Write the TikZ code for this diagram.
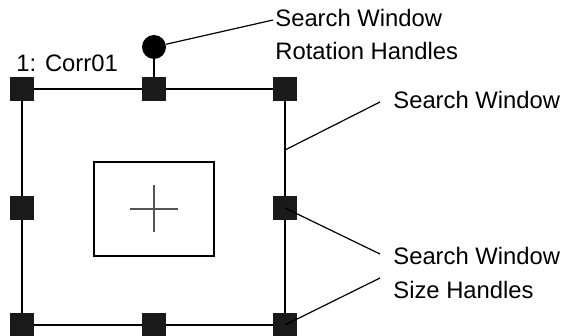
\documentclass[tikz,border=0pt]{standalone}
\usepackage{fontspec}
\setmainfont{Liberation Sans}
\definecolor{figK}{RGB}{26,26,26}
\definecolor{figG}{RGB}{85,85,85}

\begin{document}
\begin{tikzpicture}[x=0.5pt,y=-0.5pt,
  handle/.style={fill=figK,minimum size=12pt,inner sep=0pt},
  lbl/.style={font=\fontsize{11.9}{16.6}\selectfont,inner sep=0pt,align=left,anchor=base west}]
\useasboundingbox (0,0) rectangle (561,336);
% search window and target box
\draw[line width=0.6pt] (22,89) rectangle (285,325);
\draw[line width=0.6pt] (94,162) rectangle (214,256);
\draw[figG,line width=0.8pt] (130,209)--(178,209) (154,185)--(154,232);
% rotation handle
\node[circle,fill=black,minimum size=12pt,inner sep=0pt] (rot) at (154,47) {};
\draw[line width=1pt] (rot.center)--(154,89);
% size handles
\node[handle] (tl) at (22,89) {};
\node[handle] (tm) at (154,89) {};
\node[handle] (tr) at (285,89) {};
\node[handle] (ml) at (22,208) {};
\node[handle] (mr) at (285,208) {};
\node[handle] (bl) at (22,325) {};
\node[handle] (bm) at (154,325) {};
\node[handle] (br) at (285,325) {};
\node[lbl] (name) at (16,72) {1: Corr01};
% labels and leaders (base = last line)
\node[lbl] (lblRot) at (275,60) {Search Window\\Rotation Handles};
\node[lbl] (lblWin) at (393,109) {Search Window};
\node[lbl] (lblSize) at (393,298) {Search Window\\Size Handles};
\coordinate (edge) at (285,150);
\coordinate (a1) at (273,20);
\coordinate (a2) at (380,102);
\coordinate (a3) at (380,254);
\coordinate (a4) at (380,278);
\draw[line width=0.6pt] (rot)--(a1);
\draw[line width=0.6pt] (edge)--(a2);
\draw[line width=0.6pt] (mr.center)--(a3);
\draw[line width=0.6pt] (br.center)--(a4);
\end{tikzpicture}
\end{document}
